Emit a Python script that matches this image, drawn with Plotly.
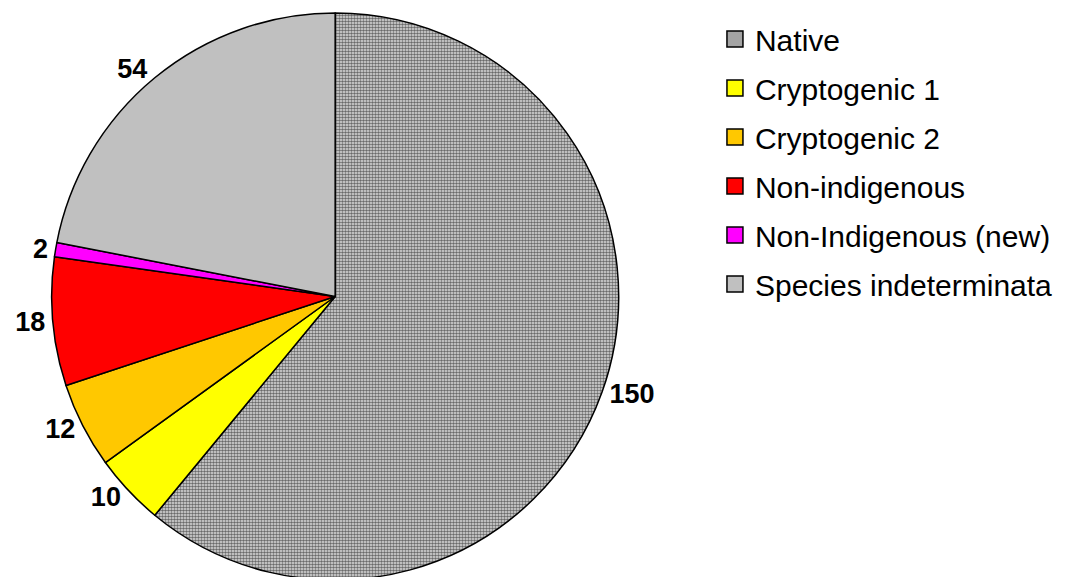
import plotly.graph_objects as go

labels = ["Native", "Cryptogenic 1", "Cryptogenic 2", "Non-indigenous",
          "Non-Indigenous (new)", "Species indeterminata"]
values = [150, 10, 12, 18, 2, 54]
colors = ["#a8a8a8", "#ffff00", "#ffc800", "#ff0000", "#ff00ff", "#c0c0c0"]
legend_colors = ["#a4a4a4", "#ffff00", "#ffc800", "#ff0000", "#ff00ff", "#c0c0c0"]

fig = go.Figure()
fig.add_trace(go.Pie(
    labels=labels, values=values, sort=False, direction="clockwise", rotation=0,
    marker=dict(colors=colors, line=dict(color="black", width=1.5),
                pattern=dict(shape=[".", "", "", "", "", ""], fgcolor="#6a6a6a",
                             bgcolor="#e0e0e0", size=3, solidity=0.55)),
    textinfo="value", textposition="outside",
    textfont=dict(family="Liberation Sans, Arial", size=27, color="black", weight="bold"),
    domain=dict(x=[23/1072, 603/1072], y=[0.0, 1.0]),
    showlegend=False, hoverinfo="label+value+percent",
))

for lab, col in zip(labels, legend_colors):
    fig.add_trace(go.Scatter(x=[None], y=[None], name=lab, legendgroup=lab, mode="markers",
                             marker=dict(symbol="square", size=16, color=col,
                                         line=dict(color="black", width=1.5)),
                             showlegend=True))

fig.update_layout(
    width=1072, height=577, margin=dict(l=0, r=0, t=0, b=0),
    paper_bgcolor="white", plot_bgcolor="white",
    xaxis=dict(visible=False), yaxis=dict(visible=False),
    legend=dict(x=0.653, y=1.0, xanchor="left", yanchor="top",
                font=dict(family="Liberation Sans, Arial", size=30, color="black"),
                tracegroupgap=7, itemwidth=30, bgcolor="rgba(0,0,0,0)"),
)
fig.write_html("out.html")
